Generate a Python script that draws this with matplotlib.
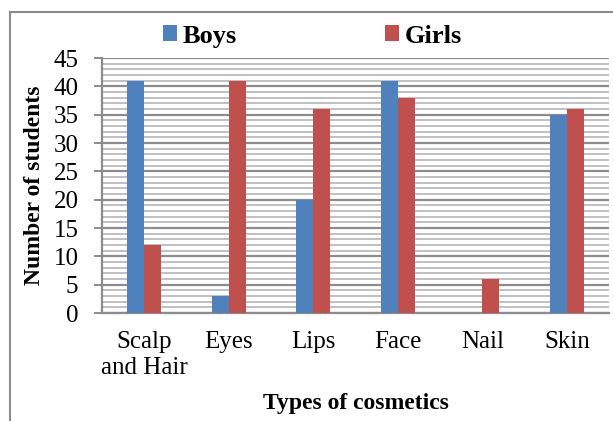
import matplotlib
matplotlib.use("Agg")
import matplotlib.pyplot as plt
from matplotlib.lines import Line2D
from matplotlib.ticker import MultipleLocator
import numpy as np

# Values
categories = ["Scalp\nand Hair", "Eyes", "Lips", "Face", "Nail", "Skin"]
boys = [41, 3, 20, 41, 0, 35]
girls = [12, 41, 36, 38, 6, 36]

BLUE = "#4f81bd"
RED = "#c0504d"
MAJOR_GRID = "#8c8c8c"
MINOR_GRID = "#c0c0c0"
SPINE = "#8c8c8c"

plt.rcParams["font.family"] = ["Liberation Serif", "DejaVu Serif"]

fig = plt.figure(figsize=(6.13, 4.21), dpi=100)
ax = fig.add_axes([0.1664, 0.2565, 0.8271, 0.6057])

x = np.arange(len(categories))
w = 0.2
ax.bar(x - w / 2, boys, width=w, color=BLUE, label="Boys", zorder=3)
ax.bar(x + w / 2, girls, width=w, color=RED, label="Girls", zorder=3)

ax.set_xlim(-0.5, len(categories) - 0.5)
ax.set_ylim(0, 45)
ax.yaxis.set_major_locator(MultipleLocator(5))
ax.yaxis.set_minor_locator(MultipleLocator(1))
ax.grid(which="major", axis="y", color=MAJOR_GRID, linewidth=1.6, zorder=0)
ax.grid(which="minor", axis="y", color=MINOR_GRID, linewidth=1.4, zorder=0)
ax.set_axisbelow(True)

ax.set_xticks(x)
ax.set_xticklabels(categories, fontsize=18, linespacing=1.25)
ax.tick_params(axis="x", length=0, pad=13)
ax.tick_params(axis="y", which="major", length=6, width=1.4, color=SPINE,
               labelsize=18, pad=11)
ax.tick_params(axis="y", which="minor", length=0)

for s in ("top", "right"):
    ax.spines[s].set_visible(False)
for s in ("left", "bottom"):
    ax.spines[s].set_color(SPINE)
    ax.spines[s].set_linewidth(1.6)

ax.set_ylabel("Number of students", fontsize=17, fontweight="bold", labelpad=6)
ax.set_xlabel("Types of cosmetics", fontsize=17, fontweight="bold", labelpad=10)

leg = ax.legend(loc="center left", bbox_to_anchor=(0.1203, 1.086), ncol=2,
                frameon=False, prop={"size": 19, "weight": "bold"},
                handlelength=0.53, handleheight=0.53, handletextpad=0.23,
                columnspacing=5.6, borderpad=0, borderaxespad=0)

# outer frame, cut off at the right and bottom edges
fx = 10 / 613
fy = 1 - 12 / 421
fig.add_artist(Line2D([fx, fx], [0, fy], transform=fig.transFigure,
                      color=SPINE, linewidth=1.5))
fig.add_artist(Line2D([fx, 1], [fy, fy], transform=fig.transFigure,
                      color=SPINE, linewidth=1.5))

fig.savefig("out.png", dpi=100)
